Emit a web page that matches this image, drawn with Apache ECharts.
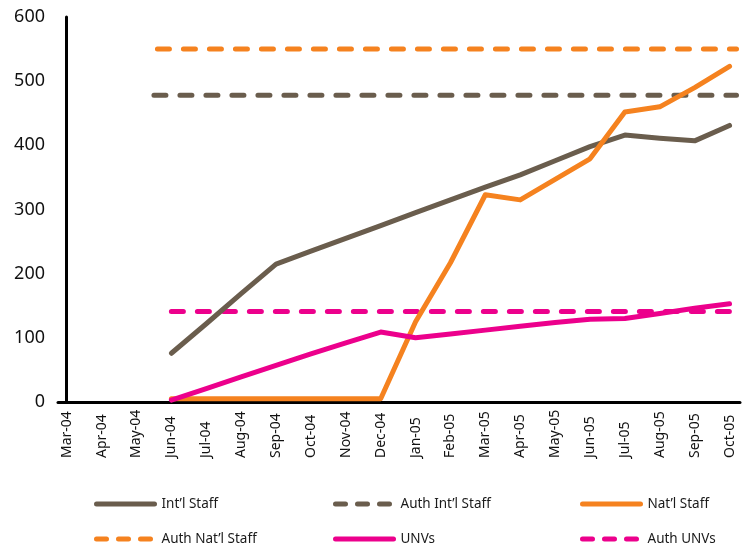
<!DOCTYPE html>
<html>
<head>
<meta charset="utf-8">
<script src="https://cdn.jsdelivr.net/npm/echarts@6/dist/echarts.min.js"></script>
<style>
    html, body { margin: 0; padding: 0; background: #fff; }
    #main { width: 742px; height: 548px; }
</style>
</head>
<body>
<div id="main"></div>
<script>
// month labels on the x axis (index 0 = Mar-04)
var months = ['Mar-04', 'Apr-04', 'May-04', 'Jun-04', 'Jul-04', 'Aug-04', 'Sep-04', 'Oct-04', 'Nov-04', 'Dec-04',
    'Jan-05', 'Feb-05', 'Mar-05', 'Apr-05', 'May-05', 'Jun-05', 'Jul-05', 'Aug-05', 'Sep-05', 'Oct-05'];

// staff numbers per month
var intlStaff = [null, null, null, 76, 122, 169, 215, 235, 255, 275, 295, 315, 335, 354, 376, 398, 416, 411, 407, 431];
var natlStaff = [null, null, null, 5, 5, 5, 5, 5, 5, 5, 125, 217, 323, 315, 347, 379, 452, 460, 490, 523];
var unvs = [null, null, null, 3, 21, 39, 57, 75, 92, 109, 100, 106, 112, 118, 124, 129, 130, 138, 146, 153];

// authorised levels and the period they cover (x in month index)
var authIntl = 478;
var authNatl = 550;
var authUnvs = 141;
var authIntlSpan = [2.5, 19.2];
var authNatlSpan = [2.6, 19.2];
var authUnvsSpan = [3, 19];

var brown = '#6A5D4D', orange = '#F5821F', pink = '#EC008C';
var font = 'Noto Sans';

function toPairs(arr) {
    var out = [];
    for (var i = 0; i < arr.length; i++) {
        out.push([i, arr[i]]);
    }
    return out;
}

function flat(span, v) {
    return [[span[0], v], [span[1], v]];
}

var monthIdx = [];
for (var i = 0; i < months.length; i++) monthIdx.push(i);

function lineSeries(name, color, data, dashed) {
    return {
        name: name,
        type: 'line',
        symbol: 'none',
        silent: true,
        data: data,
        lineStyle: {
            color: color,
            width: 5,
            type: dashed ? [12, 14] : 'solid',
            cap: 'round',
            join: 'round'
        },
        itemStyle: { color: color }
    };
}

function legendAt(name, left, top, dashed) {
    return {
        data: [name],
        left: left,
        top: top,
        padding: 0,
        itemWidth: 58,
        itemHeight: 12,
        selectedMode: false,
        itemStyle: { opacity: 0 },
        lineStyle: { width: 5, cap: 'round', type: dashed ? [10, 12] : 'solid' },
        textStyle: { fontFamily: font, fontSize: 13.5, color: '#1a1a1a', padding: [0, 0, 0, 2] }
    };
}

var chart = echarts.init(document.getElementById('main'));
chart.setOption({
    animation: false,
    grid: { left: 58, right: 2, top: 17, bottom: 146 },
    legend: [
        legendAt('Int\u2019l Staff', 94, 497, false),
        legendAt('Auth Int\u2019l Staff', 333, 497, true),
        legendAt('Nat\u2019l Staff', 580, 497, false),
        legendAt('Auth Nat\u2019l Staff', 94, 532, true),
        legendAt('UNVs', 333, 532, false),
        legendAt('Auth UNVs', 580, 532, true)
    ],
    xAxis: {
        type: 'value',
        min: -0.25,
        max: 19.3,
        axisLine: { show: true, lineStyle: { color: '#000', width: 3 } },
        axisTick: { show: false },
        splitLine: { show: false },
        axisLabel: {
            customValues: monthIdx,
            rotate: 90,
            align: 'left',
            verticalAlign: 'middle',
            margin: 56,
            fontFamily: font,
            fontSize: 14,
            color: '#111',
            formatter: function (v) { return months[Math.round(v)]; }
        }
    },
    yAxis: {
        type: 'value',
        min: 0,
        max: 600,
        interval: 100,
        axisLine: { show: true, lineStyle: { color: '#000', width: 3 } },
        axisTick: { show: false },
        splitLine: { show: false },
        axisLabel: {
            margin: 13,
            fontFamily: font,
            fontSize: 18,
            color: '#111'
        }
    },
    series: [
        lineSeries('Auth Int\u2019l Staff', brown, flat(authIntlSpan, authIntl), true),
        lineSeries('Auth Nat\u2019l Staff', orange, flat(authNatlSpan, authNatl), true),
        lineSeries('Auth UNVs', pink, flat(authUnvsSpan, authUnvs), true),
        lineSeries('Int\u2019l Staff', brown, toPairs(intlStaff), false),
        lineSeries('Nat\u2019l Staff', orange, toPairs(natlStaff), false),
        lineSeries('UNVs', pink, toPairs(unvs), false)
    ]
});
</script>
</body>
</html>
